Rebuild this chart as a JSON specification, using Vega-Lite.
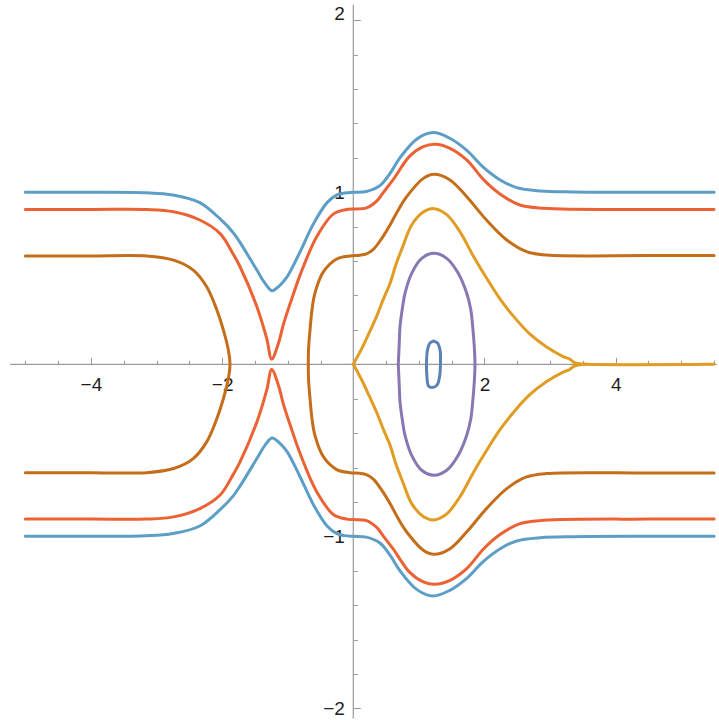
{
  "$schema": "https://vega.github.io/schema/vega-lite/v6.json",
  "width": 719,
  "height": 720,
  "padding": 0,
  "autosize": {"type": "none"},
  "background": "white",
  "config": {"view": {"stroke": null}},
  "datasets": {
    "curves": [
      {"s":"b_up","i":0,"x":-5,"y":1},{"s":"b_up","i":1,"x":-4,"y":1},{"s":"b_up","i":2,"x":-3.15,"y":0.997},{"s":"b_up","i":3,"x":-2.75,"y":0.984},{"s":"b_up","i":4,"x":-2.34,"y":0.94},{"s":"b_up","i":5,"x":-2.03,"y":0.845},{"s":"b_up","i":6,"x":-1.83,"y":0.765},{"s":"b_up","i":7,"x":-1.73,"y":0.71},{"s":"b_up","i":8,"x":-1.47,"y":0.548},{"s":"b_up","i":9,"x":-1.35,"y":0.473},{"s":"b_up","i":10,"x":-1.24,"y":0.428},{"s":"b_up","i":11,"x":-1.13,"y":0.455},{"s":"b_up","i":12,"x":-1.01,"y":0.508},{"s":"b_up","i":13,"x":-0.81,"y":0.655},{"s":"b_up","i":14,"x":-0.61,"y":0.815},{"s":"b_up","i":15,"x":-0.4,"y":0.94},{"s":"b_up","i":16,"x":-0.25,"y":0.985},{"s":"b_up","i":17,"x":-0.13,"y":0.996},{"s":"b_up","i":18,"x":0,"y":1},{"s":"b_up","i":19,"x":0.2,"y":1.005},{"s":"b_up","i":20,"x":0.41,"y":1.04},{"s":"b_up","i":21,"x":0.56,"y":1.11},{"s":"b_up","i":22,"x":0.71,"y":1.2},{"s":"b_up","i":23,"x":0.97,"y":1.31},{"s":"b_up","i":24,"x":1.22,"y":1.347},{"s":"b_up","i":25,"x":1.47,"y":1.314},{"s":"b_up","i":26,"x":1.73,"y":1.244},{"s":"b_up","i":27,"x":1.98,"y":1.147},{"s":"b_up","i":28,"x":2.24,"y":1.072},{"s":"b_up","i":29,"x":2.49,"y":1.027},{"s":"b_up","i":30,"x":2.85,"y":1.008},{"s":"b_up","i":31,"x":3.35,"y":1.002},{"s":"b_up","i":32,"x":4.5,"y":1},{"s":"b_up","i":33,"x":5.5,"y":1},

      {"s":"b_lo","i":0,"x":-5,"y":-1},{"s":"b_lo","i":1,"x":-4,"y":-1},{"s":"b_lo","i":2,"x":-3.15,"y":-0.997},{"s":"b_lo","i":3,"x":-2.75,"y":-0.984},{"s":"b_lo","i":4,"x":-2.34,"y":-0.94},{"s":"b_lo","i":5,"x":-2.03,"y":-0.845},{"s":"b_lo","i":6,"x":-1.83,"y":-0.765},{"s":"b_lo","i":7,"x":-1.73,"y":-0.71},{"s":"b_lo","i":8,"x":-1.47,"y":-0.548},{"s":"b_lo","i":9,"x":-1.35,"y":-0.473},{"s":"b_lo","i":10,"x":-1.24,"y":-0.428},{"s":"b_lo","i":11,"x":-1.13,"y":-0.455},{"s":"b_lo","i":12,"x":-1.01,"y":-0.508},{"s":"b_lo","i":13,"x":-0.81,"y":-0.655},{"s":"b_lo","i":14,"x":-0.61,"y":-0.815},{"s":"b_lo","i":15,"x":-0.4,"y":-0.94},{"s":"b_lo","i":16,"x":-0.25,"y":-0.985},{"s":"b_lo","i":17,"x":-0.13,"y":-0.996},{"s":"b_lo","i":18,"x":0,"y":-1},{"s":"b_lo","i":19,"x":0.2,"y":-1.005},{"s":"b_lo","i":20,"x":0.41,"y":-1.04},{"s":"b_lo","i":21,"x":0.56,"y":-1.11},{"s":"b_lo","i":22,"x":0.71,"y":-1.2},{"s":"b_lo","i":23,"x":0.97,"y":-1.31},{"s":"b_lo","i":24,"x":1.22,"y":-1.347},{"s":"b_lo","i":25,"x":1.47,"y":-1.314},{"s":"b_lo","i":26,"x":1.73,"y":-1.244},{"s":"b_lo","i":27,"x":1.98,"y":-1.147},{"s":"b_lo","i":28,"x":2.24,"y":-1.072},{"s":"b_lo","i":29,"x":2.49,"y":-1.027},{"s":"b_lo","i":30,"x":2.85,"y":-1.008},{"s":"b_lo","i":31,"x":3.35,"y":-1.002},{"s":"b_lo","i":32,"x":4.5,"y":-1},{"s":"b_lo","i":33,"x":5.5,"y":-1},

      {"s":"r_up","i":0,"x":-5,"y":0.9},{"s":"r_up","i":1,"x":-4,"y":0.9},{"s":"r_up","i":2,"x":-3.15,"y":0.9},{"s":"r_up","i":3,"x":-2.74,"y":0.887},{"s":"r_up","i":4,"x":-2.34,"y":0.839},{"s":"r_up","i":5,"x":-2.03,"y":0.76},{"s":"r_up","i":6,"x":-1.83,"y":0.64},{"s":"r_up","i":7,"x":-1.73,"y":0.57},{"s":"r_up","i":8,"x":-1.47,"y":0.335},{"s":"r_up","i":9,"x":-1.32,"y":0.15},{"s":"r_up","i":10,"x":-1.244,"y":0.03},{"s":"r_up","i":11,"x":-1.143,"y":0.12},{"s":"r_up","i":12,"x":-1.067,"y":0.23},{"s":"r_up","i":13,"x":-0.965,"y":0.35},{"s":"r_up","i":14,"x":-0.8,"y":0.53},{"s":"r_up","i":15,"x":-0.56,"y":0.74},{"s":"r_up","i":16,"x":-0.305,"y":0.873},{"s":"r_up","i":17,"x":-0.1,"y":0.9},{"s":"r_up","i":18,"x":0,"y":0.903},{"s":"r_up","i":19,"x":0.2,"y":0.909},{"s":"r_up","i":20,"x":0.36,"y":0.95},{"s":"r_up","i":21,"x":0.46,"y":1.0},{"s":"r_up","i":22,"x":0.61,"y":1.075},{"s":"r_up","i":23,"x":0.86,"y":1.21},{"s":"r_up","i":24,"x":1.067,"y":1.265},{"s":"r_up","i":25,"x":1.245,"y":1.279},{"s":"r_up","i":26,"x":1.474,"y":1.256},{"s":"r_up","i":27,"x":1.729,"y":1.188},{"s":"r_up","i":28,"x":1.982,"y":1.075},{"s":"r_up","i":29,"x":2.236,"y":0.99},{"s":"r_up","i":30,"x":2.54,"y":0.926},{"s":"r_up","i":31,"x":2.9,"y":0.907},{"s":"r_up","i":32,"x":4.5,"y":0.9},{"s":"r_up","i":33,"x":5.5,"y":0.9},

      {"s":"r_lo","i":0,"x":-5,"y":-0.9},{"s":"r_lo","i":1,"x":-4,"y":-0.9},{"s":"r_lo","i":2,"x":-3.15,"y":-0.9},{"s":"r_lo","i":3,"x":-2.74,"y":-0.887},{"s":"r_lo","i":4,"x":-2.34,"y":-0.839},{"s":"r_lo","i":5,"x":-2.03,"y":-0.76},{"s":"r_lo","i":6,"x":-1.83,"y":-0.64},{"s":"r_lo","i":7,"x":-1.73,"y":-0.57},{"s":"r_lo","i":8,"x":-1.47,"y":-0.335},{"s":"r_lo","i":9,"x":-1.32,"y":-0.15},{"s":"r_lo","i":10,"x":-1.244,"y":-0.03},{"s":"r_lo","i":11,"x":-1.143,"y":-0.12},{"s":"r_lo","i":12,"x":-1.067,"y":-0.23},{"s":"r_lo","i":13,"x":-0.965,"y":-0.35},{"s":"r_lo","i":14,"x":-0.8,"y":-0.53},{"s":"r_lo","i":15,"x":-0.56,"y":-0.74},{"s":"r_lo","i":16,"x":-0.305,"y":-0.873},{"s":"r_lo","i":17,"x":-0.1,"y":-0.9},{"s":"r_lo","i":18,"x":0,"y":-0.903},{"s":"r_lo","i":19,"x":0.2,"y":-0.909},{"s":"r_lo","i":20,"x":0.36,"y":-0.95},{"s":"r_lo","i":21,"x":0.46,"y":-1.0},{"s":"r_lo","i":22,"x":0.61,"y":-1.075},{"s":"r_lo","i":23,"x":0.86,"y":-1.21},{"s":"r_lo","i":24,"x":1.067,"y":-1.265},{"s":"r_lo","i":25,"x":1.245,"y":-1.279},{"s":"r_lo","i":26,"x":1.474,"y":-1.256},{"s":"r_lo","i":27,"x":1.729,"y":-1.188},{"s":"r_lo","i":28,"x":1.982,"y":-1.075},{"s":"r_lo","i":29,"x":2.236,"y":-0.99},{"s":"r_lo","i":30,"x":2.54,"y":-0.926},{"s":"r_lo","i":31,"x":2.9,"y":-0.907},{"s":"r_lo","i":32,"x":4.5,"y":-0.9},{"s":"r_lo","i":33,"x":5.5,"y":-0.9},

      {"s":"br_l","i":0,"x":-5,"y":0.63},{"s":"br_l","i":1,"x":-4,"y":0.63},{"s":"br_l","i":2,"x":-3.15,"y":0.63},{"s":"br_l","i":3,"x":-2.74,"y":0.606},{"s":"br_l","i":4,"x":-2.44,"y":0.548},{"s":"br_l","i":5,"x":-2.235,"y":0.451},{"s":"br_l","i":6,"x":-2.08,"y":0.316},{"s":"br_l","i":7,"x":-1.98,"y":0.199},{"s":"br_l","i":8,"x":-1.905,"y":0.083},{"s":"br_l","i":9,"x":-1.88,"y":0},{"s":"br_l","i":10,"x":-1.905,"y":-0.083},{"s":"br_l","i":11,"x":-1.98,"y":-0.199},{"s":"br_l","i":12,"x":-2.08,"y":-0.316},{"s":"br_l","i":13,"x":-2.235,"y":-0.451},{"s":"br_l","i":14,"x":-2.44,"y":-0.548},{"s":"br_l","i":15,"x":-2.74,"y":-0.606},{"s":"br_l","i":16,"x":-3.15,"y":-0.63},{"s":"br_l","i":17,"x":-4,"y":-0.63},{"s":"br_l","i":18,"x":-5,"y":-0.63},

      {"s":"br_r","i":0,"x":5.5,"y":0.632},{"s":"br_r","i":1,"x":4.5,"y":0.632},{"s":"br_r","i":2,"x":2.95,"y":0.635},{"s":"br_r","i":3,"x":2.64,"y":0.655},{"s":"br_r","i":4,"x":2.34,"y":0.723},{"s":"br_r","i":5,"x":2.03,"y":0.839},{"s":"br_r","i":6,"x":1.73,"y":0.974},{"s":"br_r","i":7,"x":1.474,"y":1.072},{"s":"br_r","i":8,"x":1.23,"y":1.105},{"s":"br_r","i":9,"x":1.067,"y":1.081},{"s":"br_r","i":10,"x":0.814,"y":0.975},{"s":"br_r","i":11,"x":0.712,"y":0.915},{"s":"br_r","i":12,"x":0.56,"y":0.81},{"s":"br_r","i":13,"x":0.457,"y":0.745},{"s":"br_r","i":14,"x":0.305,"y":0.668},{"s":"br_r","i":15,"x":0.2,"y":0.642},{"s":"br_r","i":16,"x":0.1,"y":0.634},{"s":"br_r","i":17,"x":-0.05,"y":0.63},{"s":"br_r","i":18,"x":-0.253,"y":0.612},{"s":"br_r","i":19,"x":-0.457,"y":0.537},{"s":"br_r","i":20,"x":-0.584,"y":0.415},{"s":"br_r","i":21,"x":-0.63,"y":0.316},{"s":"br_r","i":22,"x":-0.66,"y":0.199},{"s":"br_r","i":23,"x":-0.683,"y":0.083},{"s":"br_r","i":24,"x":-0.686,"y":0},{"s":"br_r","i":25,"x":-0.683,"y":-0.083},{"s":"br_r","i":26,"x":-0.66,"y":-0.199},{"s":"br_r","i":27,"x":-0.63,"y":-0.316},{"s":"br_r","i":28,"x":-0.584,"y":-0.415},{"s":"br_r","i":29,"x":-0.457,"y":-0.537},{"s":"br_r","i":30,"x":-0.253,"y":-0.612},{"s":"br_r","i":31,"x":-0.05,"y":-0.63},{"s":"br_r","i":32,"x":0.1,"y":-0.634},{"s":"br_r","i":33,"x":0.2,"y":-0.642},{"s":"br_r","i":34,"x":0.305,"y":-0.668},{"s":"br_r","i":35,"x":0.457,"y":-0.745},{"s":"br_r","i":36,"x":0.56,"y":-0.81},{"s":"br_r","i":37,"x":0.712,"y":-0.915},{"s":"br_r","i":38,"x":0.814,"y":-0.975},{"s":"br_r","i":39,"x":1.067,"y":-1.081},{"s":"br_r","i":40,"x":1.23,"y":-1.105},{"s":"br_r","i":41,"x":1.474,"y":-1.072},{"s":"br_r","i":42,"x":1.73,"y":-0.974},{"s":"br_r","i":43,"x":2.03,"y":-0.839},{"s":"br_r","i":44,"x":2.34,"y":-0.723},{"s":"br_r","i":45,"x":2.64,"y":-0.655},{"s":"br_r","i":46,"x":2.95,"y":-0.635},{"s":"br_r","i":47,"x":4.5,"y":-0.632},{"s":"br_r","i":48,"x":5.5,"y":-0.632},

      {"s":"y_up","i":0,"x":0,"y":0},{"s":"y_up","i":1,"x":0.14,"y":0.1},{"s":"y_up","i":2,"x":0.25,"y":0.19},{"s":"y_up","i":3,"x":0.357,"y":0.28},{"s":"y_up","i":4,"x":0.46,"y":0.38},{"s":"y_up","i":5,"x":0.56,"y":0.47},{"s":"y_up","i":6,"x":0.65,"y":0.58},{"s":"y_up","i":7,"x":0.76,"y":0.69},{"s":"y_up","i":8,"x":0.89,"y":0.81},{"s":"y_up","i":9,"x":1.067,"y":0.885},{"s":"y_up","i":10,"x":1.23,"y":0.905},{"s":"y_up","i":11,"x":1.424,"y":0.87},{"s":"y_up","i":12,"x":1.627,"y":0.77},{"s":"y_up","i":13,"x":1.829,"y":0.63},{"s":"y_up","i":14,"x":2.034,"y":0.5},{"s":"y_up","i":15,"x":2.236,"y":0.38},{"s":"y_up","i":16,"x":2.44,"y":0.28},{"s":"y_up","i":17,"x":2.694,"y":0.175},{"s":"y_up","i":18,"x":2.948,"y":0.1},{"s":"y_up","i":19,"x":3.2,"y":0.045},{"s":"y_up","i":20,"x":3.3,"y":0.03},{"s":"y_up","i":21,"x":3.36,"y":0.012},{"s":"y_up","i":22,"x":3.45,"y":0.003},{"s":"y_up","i":23,"x":3.55,"y":0},{"s":"y_up","i":24,"x":5.5,"y":0},

      {"s":"y_lo","i":0,"x":0,"y":0},{"s":"y_lo","i":1,"x":0.14,"y":-0.1},{"s":"y_lo","i":2,"x":0.25,"y":-0.19},{"s":"y_lo","i":3,"x":0.357,"y":-0.28},{"s":"y_lo","i":4,"x":0.46,"y":-0.38},{"s":"y_lo","i":5,"x":0.56,"y":-0.47},{"s":"y_lo","i":6,"x":0.65,"y":-0.58},{"s":"y_lo","i":7,"x":0.76,"y":-0.69},{"s":"y_lo","i":8,"x":0.89,"y":-0.81},{"s":"y_lo","i":9,"x":1.067,"y":-0.885},{"s":"y_lo","i":10,"x":1.23,"y":-0.905},{"s":"y_lo","i":11,"x":1.424,"y":-0.87},{"s":"y_lo","i":12,"x":1.627,"y":-0.77},{"s":"y_lo","i":13,"x":1.829,"y":-0.63},{"s":"y_lo","i":14,"x":2.034,"y":-0.5},{"s":"y_lo","i":15,"x":2.236,"y":-0.38},{"s":"y_lo","i":16,"x":2.44,"y":-0.28},{"s":"y_lo","i":17,"x":2.694,"y":-0.175},{"s":"y_lo","i":18,"x":2.948,"y":-0.1},{"s":"y_lo","i":19,"x":3.2,"y":-0.045},{"s":"y_lo","i":20,"x":3.3,"y":-0.03},{"s":"y_lo","i":21,"x":3.36,"y":-0.012},{"s":"y_lo","i":22,"x":3.45,"y":-0.003},{"s":"y_lo","i":23,"x":3.55,"y":0},

      {"s":"pu","i":0,"x":0.686,"y":0},{"s":"pu","i":1,"x":0.7,"y":0.12},{"s":"pu","i":2,"x":0.712,"y":0.219},{"s":"pu","i":3,"x":0.75,"y":0.33},{"s":"pu","i":4,"x":0.788,"y":0.413},{"s":"pu","i":5,"x":0.89,"y":0.529},{"s":"pu","i":6,"x":1.043,"y":0.616},{"s":"pu","i":7,"x":1.23,"y":0.645},{"s":"pu","i":8,"x":1.424,"y":0.616},{"s":"pu","i":9,"x":1.6,"y":0.529},{"s":"pu","i":10,"x":1.729,"y":0.413},{"s":"pu","i":11,"x":1.79,"y":0.32},{"s":"pu","i":12,"x":1.82,"y":0.219},{"s":"pu","i":13,"x":1.845,"y":0.1},{"s":"pu","i":14,"x":1.855,"y":0},{"s":"pu","i":15,"x":1.845,"y":-0.1},{"s":"pu","i":16,"x":1.82,"y":-0.219},{"s":"pu","i":17,"x":1.79,"y":-0.32},{"s":"pu","i":18,"x":1.729,"y":-0.413},{"s":"pu","i":19,"x":1.6,"y":-0.529},{"s":"pu","i":20,"x":1.424,"y":-0.616},{"s":"pu","i":21,"x":1.23,"y":-0.645},{"s":"pu","i":22,"x":1.043,"y":-0.616},{"s":"pu","i":23,"x":0.89,"y":-0.529},{"s":"pu","i":24,"x":0.788,"y":-0.413},{"s":"pu","i":25,"x":0.75,"y":-0.33},{"s":"pu","i":26,"x":0.712,"y":-0.219},{"s":"pu","i":27,"x":0.7,"y":-0.12},{"s":"pu","i":28,"x":0.686,"y":0},

      {"s":"in","i":0,"x":1.223,"y":0.135},{"s":"in","i":1,"x":1.284,"y":0.124},{"s":"in","i":2,"x":1.322,"y":0.083},{"s":"in","i":3,"x":1.329,"y":0.008},{"s":"in","i":4,"x":1.314,"y":-0.074},{"s":"in","i":5,"x":1.276,"y":-0.121},{"s":"in","i":6,"x":1.2,"y":-0.135},{"s":"in","i":7,"x":1.146,"y":-0.126},{"s":"in","i":8,"x":1.123,"y":-0.074},{"s":"in","i":9,"x":1.116,"y":0.008},{"s":"in","i":10,"x":1.131,"y":0.083},{"s":"in","i":11,"x":1.169,"y":0.124},{"s":"in","i":12,"x":1.223,"y":0.135}
    ]
  },
  "resolve": {"axis": {"x": "independent", "y": "independent"}},
  "layer": [
    {
      "description": "horizontal axis line, carrying the minor x ticks",
      "data": {"values": [{"x": -5.23, "x2": 5.54, "y": 0}]},
      "mark": {"type": "rule", "color": "#9a9a9a", "strokeWidth": 1.2},
      "encoding": {
        "x": {
          "field": "x", "type": "quantitative",
          "scale": {"domain": [-5.386, 5.575], "nice": false, "zero": false},
          "axis": {
            "orient": "bottom", "offset": -355.7, "title": null, "domain": false, "grid": false, "labels": false,
            "values": [-5, -4.5, -3.5, -3, -2.5, -1.5, -1, -0.5, 0.5, 1, 1.5, 2.5, 3, 3.5, 4.5, 5, 5.5],
            "tickColor": "#9a9a9a", "tickWidth": 1, "tickSize": -4
          }
        },
        "x2": {"field": "x2"},
        "y": {"field": "y", "type": "quantitative", "scale": {"domain": [-2.068, 2.118], "nice": false, "zero": false}, "axis": null}
      }
    },
    {
      "description": "vertical axis line, carrying the minor y ticks",
      "data": {"values": [{"x": 0, "y": -2.06, "y2": 2.09}]},
      "mark": {"type": "rule", "color": "#9a9a9a", "strokeWidth": 1.2},
      "encoding": {
        "x": {"field": "x", "type": "quantitative", "scale": {"domain": [-5.386, 5.575], "nice": false, "zero": false}, "axis": null},
        "y": {
          "field": "y", "type": "quantitative",
          "scale": {"domain": [-2.068, 2.118], "nice": false, "zero": false},
          "axis": {
            "orient": "left", "offset": -353.3, "title": null, "domain": false, "grid": false, "labels": false,
            "values": [-1.8, -1.6, -1.4, -1.2, -0.8, -0.6, -0.4, -0.2, 0.2, 0.4, 0.6, 0.8, 1.2, 1.4, 1.6, 1.8],
            "tickColor": "#9a9a9a", "tickWidth": 1, "tickSize": -4
          }
        },
        "y2": {"field": "y2"}
      }
    },
    {
      "description": "contour lines, carrying the major ticks and their labels",
      "data": {"name": "curves"},
      "mark": {"type": "line", "strokeWidth": 3, "interpolate": "catmull-rom", "strokeCap": "round", "strokeJoin": "round"},
      "encoding": {
        "x": {
          "field": "x", "type": "quantitative",
          "scale": {"domain": [-5.386, 5.575], "nice": false, "zero": false},
          "axis": {
            "orient": "bottom", "offset": -355.7, "title": null, "domain": false, "grid": false,
            "values": [-4, -2, 2, 4], "format": "d",
            "tickColor": "#9a9a9a", "tickWidth": 1, "tickSize": -7,
            "labelPadding": 18, "labelFont": "Liberation Sans", "labelFontSize": 19, "labelColor": "#1e1e1e",
            "labelBaseline": "top", "labelAlign": "center", "labelOverlap": false, "labelFlush": false, "labelBound": false
          }
        },
        "y": {
          "field": "y", "type": "quantitative",
          "scale": {"domain": [-2.068, 2.118], "nice": false, "zero": false},
          "axis": {
            "orient": "left", "offset": -353.3, "title": null, "domain": false, "grid": false,
            "values": [-2, -1, 1, 2], "format": "d",
            "tickColor": "#9a9a9a", "tickWidth": 1, "tickSize": -7,
            "labelPadding": 16, "labelFont": "Liberation Sans", "labelFontSize": 19, "labelColor": "#1e1e1e",
            "labelBaseline": "middle", "labelAlign": "right", "labelOverlap": false, "labelFlush": false, "labelBound": false,
            "labelOffset": {"condition": {"test": "datum.value === 2", "value": -7}, "value": 0}
          }
        },
        "color": {
          "field": "s", "type": "nominal", "legend": null,
          "scale": {
            "domain": ["b_up", "b_lo", "r_up", "r_lo", "br_l", "br_r", "y_up", "y_lo", "pu", "in"],
            "range": ["#5D9EC7", "#5D9EC7", "#EB6235", "#EB6235", "#C56E1A", "#C56E1A", "#E19C24", "#E19C24", "#8778B3", "#5E81B5"]
          }
        },
        "order": {"field": "i", "type": "quantitative"}
      }
    }
  ]
}
